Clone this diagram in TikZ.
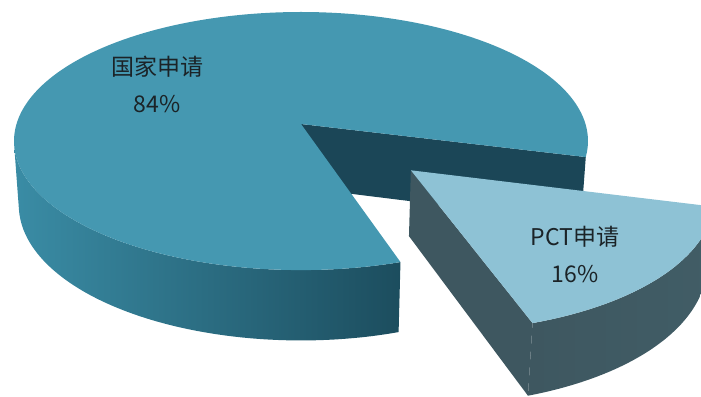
\documentclass[tikz,border=0pt]{standalone}
\usepackage{fontspec}
\newfontfamily\cjk{Noto Sans CJK SC}
\definecolor{topblue}{HTML}{4598B1}
\definecolor{sideL}{HTML}{3A8CA5}
\definecolor{sideR}{HTML}{1C4D5E}
\definecolor{innerdark}{HTML}{1B4657}
\definecolor{slicetop}{HTML}{8EC2D5}
\definecolor{slicesideL}{HTML}{3E5760}
\definecolor{slicesideR}{HTML}{415D66}
\definecolor{labelgray}{HTML}{1B2327}
\begin{document}
\begin{tikzpicture}[x=1pt, y=-1pt, line join=round,
    lbl/.style={font=\cjk\fontsize{23}{37}\selectfont, text=labelgray, align=center}]
  \def\cx{301} \def\cy{124} \def\pF{284.5} \def\pc{0.8952} \def\ps{0.4457} \def\pk{0.1475}
  \def\ph{0.254} \def\ta{14.6} \def\tb{72.2} \def\ox{0.3684} \def\oy{0.3484}
  \pgfmathsetmacro\tc{\ta+360}
  \tikzset{declare function={
      pw(\X,\Y,\Z)=1-\pk*((\Y)*\pc+(\Z)*\ps);
      px(\X,\Y,\Z)=\cx+\pF*(\X)/pw(\X,\Y,\Z);
      py(\X,\Y,\Z)=\cy+\pF*((\Y)*\ps-(\Z)*\pc)/pw(\X,\Y,\Z);}}
  \useasboundingbox (0,0) rectangle (701,396);
  \clip (0,0) rectangle (701,396);
  % big slice
  \coordinate (O) at ({px(0,0,0)},{py(0,0,0)});
  \coordinate (Ob) at ({px(0,0,-\ph)},{py(0,0,-\ph)});
  \coordinate (R) at ({px(cos(\ta),sin(\ta),0)},{py(cos(\ta),sin(\ta),0)});
  \coordinate (Rb) at ({px(cos(\ta),sin(\ta),-\ph)},{py(cos(\ta),sin(\ta),-\ph)});
  \shade[left color=sideL, right color=sideR]
    plot[smooth, domain=\tb:170.5, samples=60] ({px(cos(\x),sin(\x),0)},{py(cos(\x),sin(\x),0)})
    -- plot[smooth, domain=\tb:170.5, samples=60] ({px(cos(\tb+170.5-\x),sin(\tb+170.5-\x),-\ph)},{py(cos(\tb+170.5-\x),sin(\tb+170.5-\x),-\ph)})
    -- cycle;
  \fill[innerdark] (O) -- (R) -- (Rb) -- (Ob) -- cycle;
  \fill[topblue] (O) -- plot[smooth, domain=\tb:\tc, samples=150] ({px(cos(\x),sin(\x),0)},{py(cos(\x),sin(\x),0)}) -- cycle;
  % small slice, pulled out
  \coordinate (P) at ({px(\ox,\oy,0)},{py(\ox,\oy,0)});
  \coordinate (Pb) at ({px(\ox,\oy,-\ph)},{py(\ox,\oy,-\ph)});
  \coordinate (Q) at ({px(cos(\tb)+\ox,sin(\tb)+\oy,0)},{py(cos(\tb)+\ox,sin(\tb)+\oy,0)});
  \coordinate (Qb) at ({px(cos(\tb)+\ox,sin(\tb)+\oy,-\ph)},{py(cos(\tb)+\ox,sin(\tb)+\oy,-\ph)});
  \fill[slicesideL] (P) -- (Q) -- (Qb) -- (Pb) -- cycle;
  \shade[left color=slicesideL, right color=slicesideR]
    plot[smooth, domain=\ta:\tb, samples=40] ({px(cos(\x)+\ox,sin(\x)+\oy,0)},{py(cos(\x)+\ox,sin(\x)+\oy,0)})
    -- plot[smooth, domain=\ta:\tb, samples=40] ({px(cos(\ta+\tb-\x)+\ox,sin(\ta+\tb-\x)+\oy,-\ph)},{py(cos(\ta+\tb-\x)+\ox,sin(\ta+\tb-\x)+\oy,-\ph)})
    -- cycle;
  \fill[slicetop] (P) -- plot[smooth, domain=\ta:\tb, samples=40] ({px(cos(\x)+\ox,sin(\x)+\oy,0)},{py(cos(\x)+\ox,sin(\x)+\oy,0)}) -- cycle;
  % labels
  \node[lbl] (natl) at (157,84) {国家申请\\84\%};
  \node[lbl] (pct) at (575,254) {PCT申请\\16\%};
\end{tikzpicture}
\end{document}
